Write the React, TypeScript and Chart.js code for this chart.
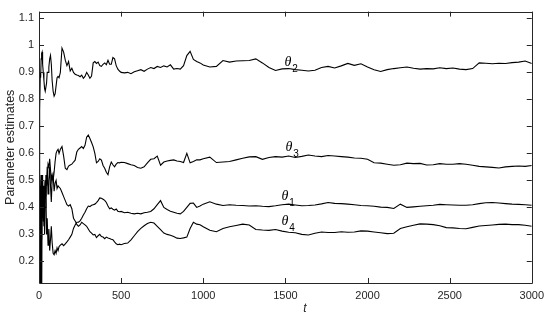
import React, { useEffect, useRef } from 'react';
import { Chart, registerables } from 'chart.js';

Chart.register(...registerables);

// time samples (t)
const T = [
  0, 2, 4, 6, 8, 10, 13, 16, 19, 22,
  26, 30, 34, 38, 42, 46, 50, 55, 60, 65,
  70, 75, 80, 86, 92, 98, 104, 110, 116, 122,
  130, 140, 150, 160, 170, 180, 190, 200, 210, 220,
  230, 240, 250, 260, 270, 280, 290, 300, 310, 320,
  330, 340, 350, 360, 370, 380, 390, 400, 410, 420,
  430, 440, 450, 460, 470, 480, 490, 500,
  520, 540, 560, 580, 600, 620, 640, 660, 680, 700,
  720, 740, 760, 780, 800, 820, 840, 860, 880, 900,
  920, 940, 960, 980, 1000,
  1040, 1080, 1120, 1160, 1200, 1240, 1280, 1320, 1360, 1400,
  1440, 1480, 1520, 1560, 1600, 1640, 1680, 1720, 1760, 1800,
  1840, 1880, 1920, 1960, 2000, 2040, 2080, 2120, 2160, 2200,
  2240, 2280, 2320, 2360, 2400, 2440, 2480, 2520, 2560, 2600,
  2640, 2680, 2720, 2760, 2800, 2840, 2880, 2920, 2960, 3000,
];

const THETA1 = [
  0.05, 0.42, 0.15, 0.45, 0.05, 0.48, 0.35, 0.28, 0.42, 0.36,
  0.46, 0.33, 0.4, 0.5, 0.45, 0.3, 0.36, 0.26, 0.32, 0.24,
  0.28, 0.33, 0.27, 0.23, 0.225, 0.24, 0.23, 0.25, 0.24, 0.255,
  0.26, 0.265, 0.258, 0.265, 0.272, 0.28, 0.29, 0.3, 0.322, 0.335,
  0.345, 0.345, 0.35, 0.36, 0.372, 0.382, 0.395, 0.405, 0.403, 0.408,
  0.41, 0.412, 0.418, 0.425, 0.435, 0.434, 0.43, 0.426, 0.418, 0.405,
  0.395, 0.398, 0.393, 0.39, 0.394, 0.386, 0.384, 0.385,
  0.38, 0.382, 0.378, 0.376, 0.378, 0.376, 0.38, 0.382, 0.385, 0.395,
  0.41, 0.425, 0.4, 0.392, 0.386, 0.382, 0.378, 0.376, 0.385, 0.4,
  0.415, 0.416, 0.4, 0.405, 0.412,
  0.421, 0.412, 0.407, 0.41, 0.408, 0.407, 0.405, 0.406, 0.404, 0.403,
  0.406, 0.41, 0.412, 0.409, 0.406, 0.407, 0.409, 0.413, 0.418, 0.415,
  0.414, 0.412, 0.41, 0.407, 0.406, 0.404, 0.401, 0.4, 0.396, 0.412,
  0.4, 0.402, 0.404, 0.406, 0.408, 0.411, 0.41, 0.409, 0.408, 0.408,
  0.41, 0.414, 0.417, 0.418, 0.416, 0.414, 0.412, 0.411, 0.41, 0.408,
];

const THETA2 = [
  0.3, 0.6, 0.82, 0.76, 0.9, 0.88, 0.95, 0.97, 0.975, 0.93,
  0.9, 0.87, 0.84, 0.83, 0.83, 0.86, 0.9, 0.9, 0.92, 0.95,
  0.963, 0.93, 0.87, 0.83, 0.812, 0.82, 0.85, 0.88, 0.885, 0.88,
  0.9, 0.99, 0.975, 0.945, 0.925, 0.94, 0.905, 0.915, 0.9, 0.893,
  0.89, 0.888, 0.884, 0.89, 0.878, 0.885, 0.9, 0.89, 0.878, 0.886,
  0.935, 0.94, 0.933, 0.938, 0.925, 0.922, 0.93, 0.935, 0.928, 0.945,
  0.93, 0.93, 0.955, 0.95, 0.925, 0.912, 0.905, 0.9,
  0.898, 0.9, 0.895, 0.902, 0.906, 0.91, 0.904, 0.912, 0.918, 0.914,
  0.922, 0.918, 0.924, 0.92, 0.928, 0.912, 0.914, 0.912, 0.925, 0.962,
  0.978, 0.948, 0.94, 0.935, 0.927,
  0.92, 0.922, 0.944, 0.938, 0.942, 0.943, 0.944, 0.95, 0.935, 0.918,
  0.907, 0.913, 0.914, 0.91, 0.908, 0.905, 0.908, 0.918, 0.922, 0.916,
  0.924, 0.933, 0.926, 0.932, 0.92, 0.91, 0.903, 0.91, 0.914, 0.917,
  0.92, 0.915, 0.912, 0.914, 0.913, 0.917, 0.914, 0.916, 0.912, 0.91,
  0.914, 0.935, 0.934, 0.932, 0.934, 0.933, 0.936, 0.938, 0.942, 0.933,
];

const THETA3 = [
  0.0, 0.5, 0.3, 0.52, 0.4, 0.35, 0.08, 0.44, 0.52, 0.42,
  0.48, 0.4, 0.46, 0.5, 0.44, 0.52, 0.5, 0.56, 0.55, 0.58,
  0.54, 0.5, 0.52, 0.5, 0.53, 0.57, 0.6, 0.61, 0.615, 0.6,
  0.615, 0.625, 0.59, 0.545, 0.54, 0.553, 0.557, 0.56, 0.568, 0.575,
  0.605, 0.615, 0.62, 0.625, 0.618, 0.63, 0.66, 0.668, 0.655, 0.64,
  0.624, 0.6, 0.565, 0.57, 0.58, 0.575, 0.555, 0.545, 0.53, 0.521,
  0.55, 0.568, 0.558, 0.55, 0.56, 0.566, 0.565, 0.567,
  0.566, 0.562, 0.558, 0.555, 0.548, 0.545, 0.55, 0.565, 0.578, 0.58,
  0.59, 0.556, 0.568, 0.572, 0.574, 0.576, 0.572, 0.57, 0.566, 0.6,
  0.565, 0.57, 0.576, 0.576, 0.58,
  0.586, 0.566, 0.568, 0.57, 0.576, 0.582, 0.587, 0.588, 0.578, 0.585,
  0.588, 0.586, 0.59, 0.585, 0.589, 0.594, 0.59, 0.588, 0.592, 0.59,
  0.588, 0.586, 0.583, 0.582, 0.578, 0.565, 0.564, 0.56, 0.556, 0.558,
  0.564, 0.562, 0.563, 0.557, 0.558, 0.562, 0.56, 0.56, 0.562, 0.56,
  0.556, 0.552, 0.55, 0.548, 0.546, 0.55, 0.552, 0.553, 0.552, 0.555,
];

const THETA4 = [
  0.3, 0.1, 0.5, 0.2, 0.48, 0.38, 0.52, 0.12, 0.47, 0.5,
  0.35, 0.46, 0.3, 0.4, 0.52, 0.48, 0.55, 0.45, 0.5, 0.55,
  0.48, 0.42, 0.5, 0.52, 0.46, 0.49, 0.5, 0.47, 0.48, 0.475,
  0.47, 0.455, 0.44, 0.425, 0.41, 0.405, 0.41, 0.395, 0.36, 0.35,
  0.337, 0.33, 0.335, 0.345, 0.34, 0.335, 0.33, 0.32, 0.31, 0.305,
  0.298, 0.3, 0.288, 0.295, 0.3, 0.292, 0.29, 0.284, 0.29, 0.287,
  0.285, 0.282, 0.28, 0.272, 0.265, 0.262, 0.264, 0.262,
  0.266, 0.268, 0.28, 0.295, 0.31, 0.322, 0.332, 0.34, 0.345, 0.342,
  0.33, 0.318, 0.305, 0.3, 0.297, 0.292, 0.286, 0.285, 0.287, 0.29,
  0.322, 0.345, 0.338, 0.336, 0.328,
  0.315, 0.31, 0.322, 0.328, 0.333, 0.338, 0.335, 0.318, 0.316, 0.315,
  0.318, 0.312, 0.308, 0.306, 0.3, 0.298, 0.304, 0.309, 0.307, 0.307,
  0.31, 0.308, 0.309, 0.313, 0.312, 0.309, 0.306, 0.303, 0.304, 0.322,
  0.328, 0.334, 0.339, 0.338, 0.336, 0.332, 0.325, 0.324, 0.322, 0.321,
  0.326, 0.331, 0.333, 0.335, 0.337, 0.338, 0.336, 0.336, 0.334, 0.33,
];

const X_TICKS = [0, 500, 1000, 1500, 2000, 2500, 3000];
const Y_TICKS = [0.2, 0.3, 0.4, 0.5, 0.6, 0.7, 0.8, 0.9, 1, 1.1];
const SERIES_NAMES = ['θ1', 'θ2', 'θ3', 'θ4'];
const SERIES_SUBS = ['1', '2', '3', '4'];
const SERIES_VALUES = [THETA1, THETA2, THETA3, THETA4];
const X_TITLE = 't';
const Y_TITLE = 'Parameter estimates';

const FONT = 'Helvetica, Arial, "Liberation Sans", sans-serif';
const TEXT_COLOR = '#262626';

// label anchor positions (data coordinates of the left/baseline of the θ glyph)
const LABEL_ANCHORS = [
  { t: 1476, v: 0.429 },
  { t: 1494, v: 0.9236 },
  { t: 1500, v: 0.6073 },
  { t: 1476, v: 0.3345 },
];

const decorPlugin = {
  id: 'decor',
  afterDraw(chart: any) {
    const { ctx, chartArea } = chart;
    const { left, right, top, bottom } = chartArea;
    const xs = chart.scales.x;
    const ys = chart.scales.y;
    ctx.save();
    ctx.strokeStyle = '#262626';
    ctx.lineWidth = 1;
    ctx.beginPath();
    ctx.rect(Math.round(left) + 0.5, Math.round(top) + 0.5, Math.round(right - left), Math.round(bottom - top));
    ctx.stroke();
    const tl = 5;
    ctx.beginPath();
    X_TICKS.forEach((v) => {
      const px = Math.round(xs.getPixelForValue(v)) + 0.5;
      ctx.moveTo(px, bottom);
      ctx.lineTo(px, bottom - tl);
      ctx.moveTo(px, top);
      ctx.lineTo(px, top + tl);
    });
    Y_TICKS.forEach((v) => {
      const py = Math.round(ys.getPixelForValue(v)) + 0.5;
      ctx.moveTo(left, py);
      ctx.lineTo(left + tl, py);
      ctx.moveTo(right, py);
      ctx.lineTo(right - tl, py);
    });
    ctx.stroke();

    // series labels
    ctx.fillStyle = '#000';
    ctx.textAlign = 'left';
    ctx.textBaseline = 'alphabetic';
    LABEL_ANCHORS.forEach((a, i) => {
      const px = xs.getPixelForValue(a.t);
      const py = ys.getPixelForValue(a.v);
      ctx.font = 'italic 14px "Liberation Serif", "Times New Roman", serif';
      const glyph = SERIES_NAMES[i].charAt(0);
      ctx.fillText(glyph, px, py);
      const w = ctx.measureText(glyph).width;
      ctx.font = '10px ' + FONT;
      ctx.fillText(SERIES_SUBS[i], px + w + 1, py + 6);
    });

    // axis titles
    ctx.fillStyle = TEXT_COLOR;
    ctx.font = 'italic 12px ' + FONT;
    ctx.textAlign = 'center';
    ctx.textBaseline = 'middle';
    ctx.fillText(X_TITLE, 305, 309);

    ctx.font = '12.5px ' + FONT;
    ctx.translate(11, (top + bottom) / 2);
    ctx.rotate(-Math.PI / 2);
    ctx.fillText(Y_TITLE, 0, 0);
    ctx.restore();
  },
};

export default function App() {
  const ref = useRef<HTMLCanvasElement | null>(null);
  useEffect(() => {
    if (!ref.current) return;
    const datasets = SERIES_VALUES.map((vals, i) => ({
      label: SERIES_NAMES[i],
      data: T.map((t, j) => ({ x: t, y: vals[j] })).filter((p) => p.y !== undefined),
      borderColor: '#000',
      borderWidth: 1.1,
      pointRadius: 0,
      tension: 0,
      fill: false,
    }));
    const chart = new Chart(ref.current, {
      type: 'line',
      data: { datasets },
      plugins: [decorPlugin],
      options: {
        animation: false,
        responsive: false,
        devicePixelRatio: 1,
        layout: { padding: { top: 6, right: 17, left: 0, bottom: 0 } },
        plugins: { legend: { display: false }, tooltip: { enabled: false } },
        scales: {
          x: {
            type: 'linear',
            min: 0,
            max: 3000,
            afterBuildTicks: (s: any) => {
              s.ticks = X_TICKS.map((v) => ({ value: v }));
            },
            afterFit: (s: any) => {
              s.height = 37;
            },
            grid: { display: false, drawTicks: false },
            border: { display: false },
            ticks: {
              padding: 6,
              maxRotation: 0,
              autoSkip: false,
              color: TEXT_COLOR,
              font: { family: FONT, size: 11 },
              callback: (v: any) => String(v),
            },
          },
          y: {
            type: 'linear',
            min: 0.12,
            max: 1.125,
            afterBuildTicks: (s: any) => {
              s.ticks = Y_TICKS.map((v) => ({ value: v }));
            },
            afterFit: (s: any) => {
              s.width = 39;
            },
            grid: { display: false, drawTicks: false },
            border: { display: false },
            ticks: {
              padding: 5,
              autoSkip: false,
              color: TEXT_COLOR,
              font: { family: FONT, size: 11 },
              callback: (v: any) => String(parseFloat(Number(v).toFixed(1))),
            },
          },
        },
      },
    });
    return () => chart.destroy();
  }, []);
  return (
    <div style={{ position: 'absolute', left: 0, top: 0, width: 550, height: 320, background: '#fff' }}>
      <canvas ref={ref} width={550} height={320} />
    </div>
  );
}
